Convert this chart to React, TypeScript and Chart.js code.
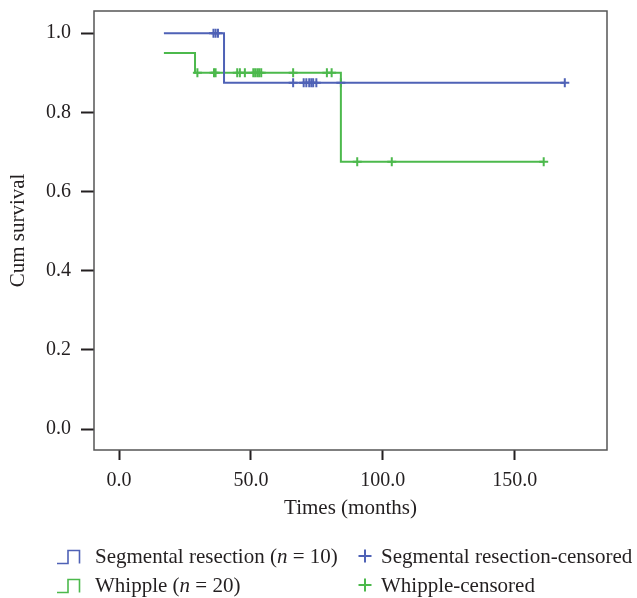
import React, { useEffect, useRef } from 'react';
import { Chart, registerables } from 'chart.js';

Chart.register(...registerables);

// Kaplan-Meier step data (time in months, cumulative survival)
const segmentalTimes = [17, 39.8, 169];
const segmentalSurvival = [1.0, 0.875, 0.875];
const whippleTimes = [17, 28.8, 84.1, 161];
const whippleSurvival = [0.95, 0.9, 0.675, 0.675];

// Censored observations
const segmentalCensorTimes = [35.8, 36.6, 37.5, 66.0, 70.0, 71.0, 72.1, 72.9, 73.6, 74.8, 84.1, 169.0];
const segmentalCensorSurvival = [1.0, 1.0, 1.0, 0.875, 0.875, 0.875, 0.875, 0.875, 0.875, 0.875, 0.875, 0.875];
const whippleCensorTimes = [29.7, 36.0, 36.6, 44.8, 45.8, 47.7, 50.9, 51.6, 52.4, 53.1, 53.9, 66.0, 78.8, 80.6, 90.3, 103.4, 161.0];
const whippleCensorSurvival = [0.9, 0.9, 0.9, 0.9, 0.9, 0.9, 0.9, 0.9, 0.9, 0.9, 0.9, 0.9, 0.9, 0.9, 0.675, 0.675, 0.675];

const xTickValues = [0, 50, 100, 150];
const yTickValues = [0, 0.2, 0.4, 0.6, 0.8, 1.0];

const BLUE = '#4f62b6';
const GREEN = '#4cb94c';
const INK = '#231f20';
const FONT = "'Liberation Serif', 'Times New Roman', serif";

const toPoints = (xs: number[], ys: number[]) => xs.map((x, i) => ({ x, y: ys[i] }));

const boxPlugin = {
  id: 'boxPlugin',
  beforeDatasetsDraw(chart: any) {
    const { ctx, chartArea } = chart;
    ctx.save();
    ctx.strokeStyle = '#555555';
    ctx.lineWidth = 1.5;
    ctx.strokeRect(chartArea.left, chartArea.top, chartArea.right - chartArea.left, chartArea.bottom - chartArea.top);
    ctx.restore();
  },
};

function StepIcon({ color }: { color: string }) {
  return (
    <svg width="25" height="16" style={{ display: 'block' }}>
      <path d="M1 14.5 H12 V1.5 H23.5 V14.5" fill="none" stroke={color} strokeWidth="1.6" />
    </svg>
  );
}

function PlusIcon({ color }: { color: string }) {
  return (
    <svg width="14" height="14" style={{ display: 'block' }}>
      <path d="M7 0.5 V13.5 M0.5 7 H13.5" fill="none" stroke={color} strokeWidth="2" />
    </svg>
  );
}

export default function App() {
  const canvasRef = useRef<HTMLCanvasElement | null>(null);

  useEffect(() => {
    if (!canvasRef.current) return;
    const chart = new Chart(canvasRef.current, {
      type: 'scatter',
      data: {
        datasets: [
          {
            label: 'Segmental resection (n = 10)',
            data: toPoints(segmentalTimes, segmentalSurvival),
            showLine: true,
            stepped: 'before',
            borderColor: BLUE,
            borderWidth: 2,
            pointRadius: 0,
            fill: false,
          },
          {
            label: 'Whipple (n = 20)',
            data: toPoints(whippleTimes, whippleSurvival),
            showLine: true,
            stepped: 'before',
            borderColor: GREEN,
            borderWidth: 2,
            pointRadius: 0,
            fill: false,
          },
          {
            label: 'Segmental resection-censored',
            data: toPoints(segmentalCensorTimes, segmentalCensorSurvival),
            showLine: false,
            pointStyle: 'cross',
            pointRadius: 4.5,
            pointBorderWidth: 2,
            borderColor: BLUE,
            backgroundColor: BLUE,
          },
          {
            label: 'Whipple-censored',
            data: toPoints(whippleCensorTimes, whippleCensorSurvival),
            showLine: false,
            pointStyle: 'cross',
            pointRadius: 4.5,
            pointBorderWidth: 2,
            borderColor: GREEN,
            backgroundColor: GREEN,
          },
        ],
      },
      options: {
        animation: false,
        responsive: false,
        maintainAspectRatio: false,
        layout: { padding: { top: 11, right: 30, bottom: 77, left: 6 } },
        plugins: {
          legend: { display: false },
          tooltip: { enabled: false },
        },
        scales: {
          x: {
            type: 'linear',
            min: -9.5,
            max: 185,
            afterBuildTicks: (s: any) => {
              s.ticks = xTickValues.map((v) => ({ value: v }));
            },
            afterFit: (s: any) => {
              s.height = 71;
              s.paddingLeft = 0;
              s.paddingRight = 0;
            },
            ticks: {
              callback: (v: any) => Number(v).toFixed(1),
              font: { family: FONT, size: 20 },
              color: INK,
              padding: 9,
              maxRotation: 0,
            },
            grid: {
              display: true,
              drawOnChartArea: false,
              drawTicks: true,
              tickLength: 10,
              tickColor: INK,
              tickWidth: 2,
            },
            border: { display: false },
            title: {
              display: true,
              text: 'Times (months)',
              font: { family: FONT, size: 21 },
              color: INK,
              padding: 0,
            },
          },
          y: {
            type: 'linear',
            min: -0.053,
            max: 1.056,
            afterBuildTicks: (s: any) => {
              s.ticks = yTickValues.map((v) => ({ value: v }));
            },
            afterFit: (s: any) => {
              s.width = 88;
              s.paddingTop = 0;
              s.paddingBottom = 0;
            },
            ticks: {
              callback: (v: any) => Number(v).toFixed(1),
              font: { family: FONT, size: 20 },
              color: INK,
              padding: 10,
            },
            grid: {
              display: true,
              drawOnChartArea: false,
              drawTicks: true,
              tickLength: 13,
              tickColor: INK,
              tickWidth: 2,
            },
            border: { display: false },
            title: {
              display: true,
              text: 'Cum survival',
              font: { family: FONT, size: 21 },
              color: INK,
              padding: 0,
            },
          },
        },
      },
      plugins: [boxPlugin],
    } as any);
    return () => chart.destroy();
  }, []);

  const textStyle: React.CSSProperties = {
    position: 'absolute',
    fontFamily: FONT,
    fontSize: 21,
    lineHeight: '24px',
    color: INK,
    whiteSpace: 'nowrap',
  };

  return (
    <div style={{ position: 'fixed', left: 0, top: 0, width: 637, height: 598, background: '#fff' }}>
      <canvas ref={canvasRef} width={637} height={598} style={{ position: 'absolute', left: 0, top: 0 }} />
      <div style={{ position: 'absolute', left: 56, top: 549 }}><StepIcon color={BLUE} /></div>
      <div style={{ ...textStyle, left: 95, top: 544 }}>
        Segmental resection (<i>n</i> = 10)
      </div>
      <div style={{ position: 'absolute', left: 56, top: 578 }}><StepIcon color={GREEN} /></div>
      <div style={{ ...textStyle, left: 95, top: 573 }}>
        Whipple (<i>n</i> = 20)
      </div>
      <div style={{ position: 'absolute', left: 358, top: 549 }}><PlusIcon color={BLUE} /></div>
      <div style={{ ...textStyle, left: 381, top: 544 }}>Segmental resection-censored</div>
      <div style={{ position: 'absolute', left: 358, top: 578 }}><PlusIcon color={GREEN} /></div>
      <div style={{ ...textStyle, left: 381, top: 573 }}>Whipple-censored</div>
    </div>
  );
}
